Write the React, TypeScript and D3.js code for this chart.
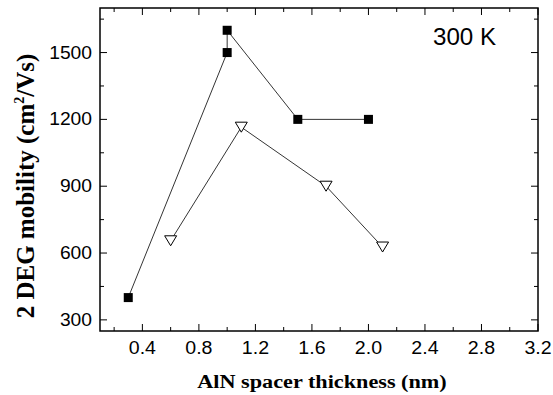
import React, { useEffect, useRef } from 'react';
import * as d3 from 'd3';

// series 1: filled squares
const squareX = [0.3, 1.0, 1.0, 1.5, 2.0];
const squareY = [400, 1500, 1600, 1200, 1200];
// series 2: open down triangles
const triX = [0.6, 1.1, 1.7, 2.1];
const triY = [655, 1165, 900, 627];

const xTicks = [0.4, 0.8, 1.2, 1.6, 2.0, 2.4, 2.8, 3.2];
const yTicks = [300, 600, 900, 1200, 1500];

const W = 553;
const H = 395;
const SANS = 'Liberation Sans, Arial, sans-serif';
const SERIF = 'Liberation Serif, Times New Roman, serif';

const App = () => {
  const svgRef = useRef<SVGSVGElement>(null);

  useEffect(() => {
    const svg = d3.select(svgRef.current);
    svg.selectAll('*').remove();
    const margin = { top: 8, right: 15, bottom: 64, left: 100 };

    const xScale = d3.scaleLinear()
      .domain([0.1, 3.2])
      .range([margin.left, W - margin.right]);
    const yScale = d3.scaleLinear()
      .domain([250, 1700])
      .range([H - margin.bottom, margin.top]);

    svg.append('rect').attr('width', W).attr('height', H).attr('fill', 'white');

    const x0 = margin.left, x1 = W - margin.right;
    const y0 = H - margin.bottom, y1 = margin.top;

    const xMinor = d3.range(0.2, 3.21, 0.2);
    const yMinor = d3.range(300, 1701, 150);
    const tl = 7, tm = 4;

    const g = svg.append('g').attr('stroke', '#000').attr('stroke-width', 1);
    xMinor.forEach((v, i) => {
      const x = xScale(v);
      const len = i % 2 === 1 ? tl : tm;
      g.append('line').attr('x1', x).attr('x2', x).attr('y1', y0).attr('y2', y0 - len);
      g.append('line').attr('x1', x).attr('x2', x).attr('y1', y1).attr('y2', y1 + len);
    });
    yMinor.forEach((v, i) => {
      const y = yScale(v);
      const len = i % 2 === 0 ? tl : tm;
      g.append('line').attr('x1', x0).attr('x2', x0 + len).attr('y1', y).attr('y2', y);
      g.append('line').attr('x1', x1).attr('x2', x1 - len).attr('y1', y).attr('y2', y);
    });

    svg.append('rect')
      .attr('x', x0).attr('y', y1).attr('width', x1 - x0).attr('height', y0 - y1)
      .attr('fill', 'none').attr('stroke', '#000').attr('stroke-width', 1.5);

    // tick labels (slightly wide, like the source image)
    svg.selectAll('text.xt')
      .data(xTicks)
      .enter()
      .append('text')
      .attr('class', 'xt')
      .attr('transform', d => `translate(${xScale(d)},${y0 + 23}) scale(1.12,1)`)
      .attr('text-anchor', 'middle')
      .attr('font-family', SANS)
      .attr('font-size', 17.5)
      .text(d => d.toFixed(1));

    svg.selectAll('text.yt')
      .data(yTicks)
      .enter()
      .append('text')
      .attr('class', 'yt')
      .attr('transform', d => `translate(${x0 - 8},${yScale(d) + 6}) scale(1.1,1)`)
      .attr('text-anchor', 'end')
      .attr('font-family', SANS)
      .attr('font-size', 17.5)
      .text(d => d);

    const line = d3.line<number>()
      .x((d, i) => xScale(squareX[i]))
      .y(d => yScale(d));
    svg.append('path').attr('d', line(squareY)).attr('fill', 'none').attr('stroke', '#000').attr('stroke-width', 0.8);

    const line2 = d3.line<number>()
      .x((d, i) => xScale(triX[i]))
      .y(d => yScale(d));
    svg.append('path').attr('d', line2(triY)).attr('fill', 'none').attr('stroke', '#000').attr('stroke-width', 0.8);

    const sq = 9;
    svg.selectAll('rect.sq')
      .data(squareY)
      .enter()
      .append('rect')
      .attr('class', 'sq')
      .attr('x', (d, i) => xScale(squareX[i]) - sq / 2)
      .attr('y', d => yScale(d) - sq / 2)
      .attr('width', sq)
      .attr('height', sq)
      .attr('fill', '#000');

    const tw = 6, th = 10;
    svg.selectAll('path.tri')
      .data(triY)
      .enter()
      .append('path')
      .attr('class', 'tri')
      .attr('d', (d, i) => {
        const cx = xScale(triX[i]), cy = yScale(d);
        return `M${cx - tw},${cy - th / 2}L${cx + tw},${cy - th / 2}L${cx},${cy + th / 2}Z`;
      })
      .attr('fill', 'white')
      .attr('stroke', '#000')
      .attr('stroke-width', 1);

    svg.append('text')
      .attr('transform', 'translate(433,45) scale(1.05,1)')
      .attr('font-family', SANS)
      .attr('font-size', 23)
      .text('300 K');

    svg.append('text')
      .attr('transform', `translate(${(x0 + x1) / 2 + 3},388) scale(1.14,1)`)
      .attr('text-anchor', 'middle')
      .attr('font-family', SERIF)
      .attr('font-weight', 'bold')
      .attr('font-size', 19.5)
      .text('AlN spacer thickness (nm)');

    const yt = svg.append('text')
      .attr('transform', `translate(34, 186) rotate(-90)`)
      .attr('text-anchor', 'middle')
      .attr('font-family', SERIF)
      .attr('font-weight', 'bold')
      .attr('font-size', 25);
    yt.append('tspan').text('2 DEG mobility (cm');
    yt.append('tspan').attr('dy', -10).attr('font-size', 14).text('2');
    yt.append('tspan').attr('dy', 10).text('/Vs)');
  }, []);

  return <svg ref={svgRef} width={W} height={H} style={{ position: 'absolute', left: 0, top: 0 }}></svg>;
};

export default App;
